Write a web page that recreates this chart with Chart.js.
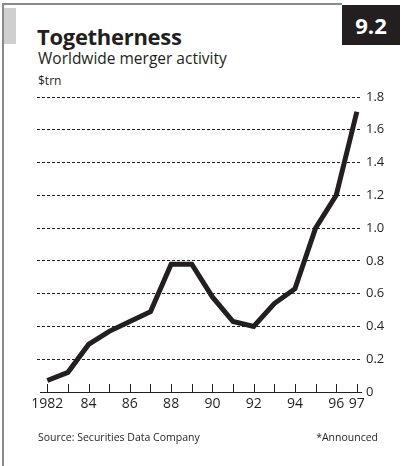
<!DOCTYPE html>
<html>
<head>
<meta charset="utf-8">
<script src="https://cdn.jsdelivr.net/npm/chart.js@4"></script>
<style>
  body { margin: 0; background: #fff; font-family: "Open Sans", sans-serif; color: #231f20; }
  #wrap { position: relative; width: 402px; height: 466px; overflow: hidden; }
  #frameLeft { position: absolute; left: 2px; top: 3px; width: 2px; height: 463px; background: #8a8a8a; }
  #frameTop { position: absolute; left: 2px; top: 3px; width: 340px; height: 2px; background: #8a8a8a; }
  #tab { position: absolute; left: 4px; top: 8px; width: 12px; height: 36px; background: #cfcfcf; }
  #badge { position: absolute; left: 342px; top: 5px; width: 58px; height: 40px; background: #231f20; color: #fff;
           font-weight: bold; font-size: 22px; text-align: center; line-height: 40px; }
  #title { position: absolute; left: 37px; top: 21px; font-weight: bold; font-size: 22px; letter-spacing: -0.3px; }
  #subtitle { position: absolute; left: 38px; top: 47px; font-size: 15.5px; }
  #unit { position: absolute; left: 38px; top: 72px; font-size: 12px; }
  #source { position: absolute; left: 38px; top: 430px; font-size: 10.5px; }
  #note { position: absolute; right: 24px; top: 430px; font-size: 10.5px; }
  #chartBox { position: absolute; left: 0; top: 0; width: 402px; height: 466px; }
</style>
</head>
<body>
<div id="wrap">
  <div id="frameLeft"></div>
  <div id="frameTop"></div>
  <div id="tab"></div>
  <div id="badge">9.2</div>
  <div id="title">Togetherness</div>
  <div id="subtitle">Worldwide merger activity</div>
  <div id="unit">$trn</div>
  <div id="chartBox"><canvas id="mergerChart" width="402" height="466"></canvas></div>
  <div id="source">Source: Securities Data Company</div>
  <div id="note">*Announced</div>
</div>
<script>
//years on the x axis
const years = [1982, 1983, 1984, 1985, 1986, 1987, 1988, 1989, 1990, 1991, 1992, 1993, 1994, 1995, 1996, 1997];

//merger activity, $trn (1997 announced)
const mergerValues = [0.07, 0.12, 0.29, 0.37, 0.43, 0.49, 0.78, 0.78, 0.58, 0.43, 0.40, 0.54, 0.63, 1.0, 1.2, 1.71];

//which years get a label under the axis
const labelledYears = [1982, 1984, 1986, 1988, 1990, 1992, 1994, 1996, 1997];

//y axis tick values
const yTicks = [0, 0.2, 0.4, 0.6, 0.8, 1.0, 1.2, 1.4, 1.6, 1.8];

const ink = '#231f20';

//small upward tick marks on the x axis, one per year
const yearTicks = {
    id: 'yearTicks',
    afterDraw(chart) {
        const ctx = chart.ctx;
        const x = chart.scales.x;
        const y = chart.scales.y;
        const base = y.getPixelForValue(0);
        ctx.save();
        ctx.strokeStyle = ink;
        ctx.lineWidth = 1;
        ctx.beginPath();
        ctx.moveTo(chart.chartArea.left + 3, base + 0.5);
        ctx.lineTo(chart.chartArea.right, base + 0.5);
        years.forEach((yr) => {
            const px = Math.round(x.getPixelForValue(yr)) + 0.5;
            ctx.moveTo(px, base);
            ctx.lineTo(px, base - 8);
        });
        ctx.stroke();
        ctx.restore();
    },
};

const points = years.map((yr, i) => ({ x: yr, y: mergerValues[i] }));

new Chart(document.getElementById('mergerChart'), {
    type: 'line',
    data: {
        datasets: [
            {
                data: points,
                borderColor: ink,
                borderWidth: 5,
                pointRadius: 0,
                tension: 0,
                borderJoinStyle: 'miter',
                borderCapStyle: 'butt',
            },
        ],
    },
    options: {
        responsive: false,
        animation: false,
        layout: { padding: { left: 37, top: 97, right: 0, bottom: 44 } },
        plugins: { legend: { display: false }, tooltip: { enabled: false } },
        scales: {
            x: {
                type: 'linear',
                min: 1981.5,
                max: 1997.25,
                afterBuildTicks: (scale) => {
                    scale.ticks = labelledYears.map((v) => ({ value: v }));
                },
                afterFit: (scale) => { scale.height = 30; },
                grid: { display: false },
                border: { display: false },
                ticks: {
                    autoSkip: false,
                    maxRotation: 0,
                    padding: -4,
                    color: ink,
                    font: { family: 'Open Sans', size: 14 },
                    callback: (v) => (v === 1982 ? '1982' : String(v).slice(2)),
                },
            },
            y: {
                position: 'right',
                min: 0,
                max: 1.8,
                afterBuildTicks: (scale) => {
                    scale.ticks = yTicks.map((v) => ({ value: v }));
                },
                afterFit: (scale) => { scale.width = 40; },
                border: { display: false, dash: [3, 2] },
                grid: {
                    color: (c) => (c.tick && c.tick.value === 0 ? 'rgba(0,0,0,0)' : ink),
                    lineWidth: 1,
                    drawTicks: false,
                },
                ticks: {
                    padding: 4,
                    color: ink,
                    font: { family: 'Open Sans', size: 13 },
                    callback: (v) => (v === 0 ? '0' : v.toFixed(1)),
                },
            },
        },
    },
    plugins: [yearTicks],
});
</script>
</body>
</html>
